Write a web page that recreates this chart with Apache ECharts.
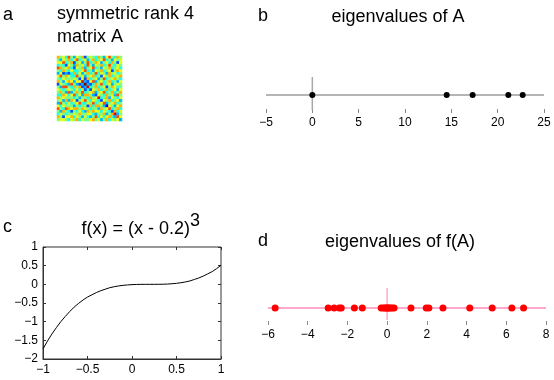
<!DOCTYPE html>
<html><head><meta charset="utf-8">
<script src="https://cdn.jsdelivr.net/npm/echarts@6/dist/echarts.min.js"></script>
<style>html,body{margin:0;padding:0;background:#fff}#c{width:554px;height:380px}</style>
</head><body><div id="c"></div>
<script>
// ---- data ----
const eigA = [0, 14.5, 17.3, 21.15, 22.7];
const eigFA = [-5.64, -2.97, -2.67, -2.41, -2.31, -1.65, -1.25, -0.3, -0.2, -0.12, -0.05, 0, 0.05, 0.1, 0.18, 0.25, 0.35, 1.2, 1.97, 2.1, 2.81, 4.16, 5.29, 6.28, 6.87];
const curveX = [-1,-0.95,-0.9,-0.85,-0.8,-0.75,-0.7,-0.65,-0.6,-0.55,-0.5,-0.45,-0.4,-0.35,-0.3,-0.25,-0.2,-0.15,-0.1,-0.05,0,0.05,0.1,0.15,0.2,0.25,0.3,0.35,0.4,0.45,0.5,0.55,0.6,0.65,0.7,0.75,0.8,0.85,0.9,0.95,1];
const curveY = [-1.73,-1.52,-1.33,-1.16,-1.0,-0.86,-0.73,-0.61,-0.51,-0.42,-0.34,-0.28,-0.22,-0.17,-0.13,-0.09,-0.064,-0.043,-0.027,-0.016,-0.008,-0.003,-0.001,0,0,0,0.001,0.003,0.008,0.016,0.027,0.043,0.064,0.09,0.13,0.17,0.22,0.28,0.34,0.42,0.51];
const ticksB = [-5,0,5,10,15,20,25];
const ticksC_x = [-1,-0.5,0,0.5,1];
const ticksC_y = [-2,-1.5,-1,-0.5,0,0.5,1];
const ticksD = [-6,-4,-2,0,2,4,6,8];
const upperRows = [
 [2,0,1,-1,3,0,-2,1,0,2,-3,0,1,0,-1,2,0,-2,1,3,0,-1,2,0],
 [-2,1,0,2,-1,1,3,-1,0,1,-2,0,2,-1,0,1,3,-1,0,-2,1,0,1],
 [3,-1,0,2,-3,0,1,-2,0,3,-1,0,2,1,-2,0,1,-1,2,0,-3,1],
 [-3,1,0,-2,2,0,1,-1,3,0,-2,1,0,2,-1,0,3,0,-1,1,0],
 [2,-1,-3,1,0,2,-2,0,1,3,-1,0,-2,1,0,2,-1,0,1,-1],
 [1,-1,-1,0,1,3,-1,0,-2,1,0,2,-1,0,1,-3,0,2,1],
 [2,-1,1,-2,0,2,-1,0,3,-1,1,0,-2,2,0,1,-1,0],
 [3,0,1,-2,0,1,2,-1,0,-3,1,0,2,-1,0,1,2],
 [-3,1,-3,2,-1,0,1,-2,0,3,-1,0,1,2,0,-1],
 [4,-2,-3,1,3,-2,0,1,-1,0,2,-1,0,-2,1],
 [6,-2,-3,-1,2,0,3,-1,0,1,-2,0,1,0],
 [4,-1,0,2,-1,0,1,-3,0,2,1,-1,0],
 [-3,1,0,2,-1,0,2,-1,0,1,-2,1],
 [2,-2,0,1,3,-1,0,2,-1,0,2],
 [-3,1,0,-1,2,0,1,-2,3,0],
 [4,-1,0,2,-2,1,0,-1,1],
 [-3,1,0,2,-1,0,1,-2],
 [3,-2,0,1,2,-1,0],
 [-4,1,0,-2,1,2],
 [3,-1,0,2,-1],
 [-3,2,-1,1],
 [4,-2,0],
 [3,1],
 [-2]
];
const N = upperRows.length;
const idx = upperRows.map((r, i) => i);
const heat = [];
for (let i = 0; i < N; i++) {
  for (let k = 0; k < upperRows[i].length; k++) {
    const j = i + k, v = upperRows[i][k];
    heat.push([j, i, v]);
    if (j !== i) heat.push([i, j, v]);
  }
}
const font = 'Liberation Sans, Arial, Helvetica, sans-serif';
const minus = v => String(v).replace('-', '\u2212');

const chart = echarts.init(document.getElementById('c'), null, {renderer: 'canvas'});
function txt(t, x, y, align) {
  return {type: 'text', x: x, y: y, style: {text: t, font: '18px ' + font, fill: '#000', textAlign: align || 'left', textVerticalAlign: 'middle'}};
}
const lineAxisX = (gi, min, max, itv) => ({
  type: 'value', gridIndex: gi, min: min, max: max, interval: itv,
  axisLine: {show: false, onZero: false}, splitLine: {show: false},
  axisTick: {show: true, inside: true, length: 4, lineStyle: {color: '#888'}},
  axisLabel: {color: '#000', fontSize: 12, fontFamily: font, margin: 4, formatter: minus}
});
chart.setOption({
  animation: false,
  grid: [
    {left: 57, top: 56, width: 65, height: 65},
    {left: 266, top: 77, width: 278, height: 36},
    {left: 43, top: 247, width: 178, height: 112, show: true, borderColor: '#333', borderWidth: 1},
    {left: 268, top: 288, width: 278, height: 37}
  ],
  xAxis: [
    {type: 'category', gridIndex: 0, data: idx, show: false},
    lineAxisX(1, -5, 25, 5),
    {type: 'value', gridIndex: 2, min: -1, max: 1, interval: 0.5,
     axisLine: {onZero: false, lineStyle: {color: '#333'}}, splitLine: {show: false},
     axisTick: {inside: true, length: 3, lineStyle: {color: '#333'}},
     axisLabel: {color: '#000', fontSize: 12, fontFamily: font, margin: 5, formatter: minus}},
    lineAxisX(3, -6, 8, 2),
    {type: 'value', gridIndex: 2, position: 'top', min: -1, max: 1, interval: 0.5,
     axisLine: {show: false, onZero: false}, splitLine: {show: false},
     axisTick: {inside: true, length: 3, lineStyle: {color: '#333'}}, axisLabel: {show: false}}
  ],
  yAxis: [
    {type: 'category', gridIndex: 0, data: idx, show: false, inverse: true},
    {type: 'value', gridIndex: 1, min: -1, max: 1, show: false},
    {type: 'value', gridIndex: 2, min: -2, max: 1, interval: 0.5,
     axisLine: {show: true, onZero: false, lineStyle: {color: '#333'}}, splitLine: {show: false},
     axisTick: {show: true, inside: true, length: 3, lineStyle: {color: '#333'}},
     axisLabel: {color: '#000', fontSize: 12, fontFamily: font, margin: 5, formatter: minus}},
    {type: 'value', gridIndex: 3, min: -0.85, max: 1, show: false},
    {type: 'value', gridIndex: 2, position: 'right', min: -2, max: 1, interval: 0.5,
     axisLine: {show: false, onZero: false}, splitLine: {show: false},
     axisTick: {show: true, inside: true, length: 3, lineStyle: {color: '#333'}}, axisLabel: {show: false}}
  ],
  visualMap: {show: false, type: 'continuous', min: -5, max: 5, seriesIndex: 0,
    inRange: {color: ['#00008f','#0000ff','#0080ff','#00ffff','#80ff80','#ffff00','#ff8000','#ff0000','#800000']}},
  series: [
    {type: 'heatmap', xAxisIndex: 0, yAxisIndex: 0, data: heat, itemStyle: {borderWidth: 0}},
    {type: 'line', xAxisIndex: 1, yAxisIndex: 1, data: [[ticksB[0], 0], [ticksB[ticksB.length-1], 0]], symbol: 'none', lineStyle: {color: '#b5b5b5', width: 2}, z: 1},
    {type: 'line', xAxisIndex: 1, yAxisIndex: 1, data: [[0, 1], [0, -0.83]], symbol: 'none', lineStyle: {color: '#a8a8a8', width: 1.5}, z: 1},
    {type: 'scatter', xAxisIndex: 1, yAxisIndex: 1, data: eigA.map(v => [v, 0]), symbolSize: 6, itemStyle: {color: '#000', opacity: 1}, z: 3},
    {type: 'line', xAxisIndex: 2, yAxisIndex: 2, data: curveX.map((x, i) => [x, curveY[i]]), smooth: false, symbol: 'none', lineStyle: {color: '#000', width: 1}},
    {type: 'line', xAxisIndex: 3, yAxisIndex: 3, data: [[ticksD[0], 0], [ticksD[ticksD.length-1], 0]], symbol: 'none', lineStyle: {color: '#ffaacc', width: 2}, z: 1},
    {type: 'line', xAxisIndex: 3, yAxisIndex: 3, data: [[0, 1], [0, -0.6]], symbol: 'none', lineStyle: {color: '#ffaacc', width: 1.5}, z: 1},
    {type: 'scatter', xAxisIndex: 3, yAxisIndex: 3, data: eigFA.map(v => [v, 0]), symbolSize: 7, itemStyle: {color: '#ff0000', opacity: 1}, z: 3}
  ],
  graphic: [
    txt('a', 3, 15), txt('symmetric rank 4', 57, 14), txt('matrix A', 57, 37),
    txt('b', 258, 16), txt('eigenvalues of A', 398, 17, 'center'),
    txt('c', 3, 227), txt('f(x) = (x - 0.2)', 190, 229, 'right'), txt('3', 190, 221),
    txt('d', 258, 241), txt('eigenvalues of f(A)', 400, 242, 'center')
  ]
});
</script></body></html>
